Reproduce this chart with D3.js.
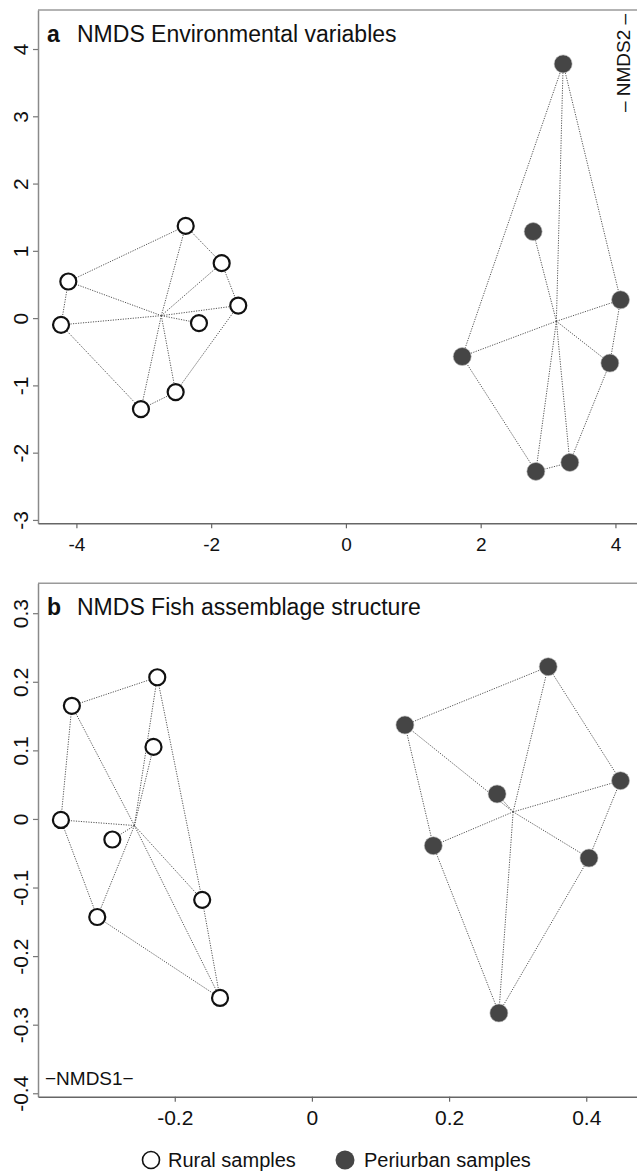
<!DOCTYPE html>
<html>
<head>
<meta charset="utf-8">
<script src="https://cdn.jsdelivr.net/npm/d3@7"></script>
<style>
  html, body { margin: 0; padding: 0; background: #fff; }
  svg { display: block; font-family: "Liberation Sans", Arial, sans-serif; }
</style>
</head>
<body>
<svg id="chart" width="637" height="1173"></svg>
<script>
// ---- Panel a: NMDS Environmental variables ----
const envRuralX = [-2.378, -1.844, -4.120, -1.598, -4.228, -2.181, -2.527, -3.042];
const envRuralY = [1.371, 0.817, 0.544, 0.187, -0.100, -0.074, -1.100, -1.352];
const envPeriX  = [3.224, 2.779, 4.076, 1.726, 3.917, 3.323, 2.819];
const envPeriY  = [3.779, 1.287, 0.272, -0.571, -0.669, -2.146, -2.279];
const envXTicks = [-4, -2, 0, 2, 4];
const envYTicks = [-3, -2, -1, 0, 1, 2, 3, 4];
const envXDomain = [-4.57, 4.32];
const envYDomain = [-3.05, 4.58];

// ---- Panel b: NMDS Fish assemblage structure ----
const fishRuralX = [-0.350, -0.2255, -0.231, -0.366, -0.291, -0.160, -0.313, -0.134];
const fishRuralY = [0.165, 0.2066, 0.105, -0.0015, -0.030, -0.118, -0.143, -0.261];
const fishPeriX  = [0.3445, 0.1356, 0.270, 0.450, 0.177, 0.404, 0.2726];
const fishPeriY  = [0.222, 0.137, 0.0364, 0.0558, -0.039, -0.057, -0.283];
const fishXTicks = [-0.2, 0, 0.2, 0.4];
const fishYTicks = [-0.4, -0.3, -0.2, -0.1, 0, 0.1, 0.2, 0.3];
const fishXDomain = [-0.3994, 0.474];
const fishYDomain = [-0.405, 0.3436];

const titles = ["NMDS Environmental variables", "NMDS Fish assemblage structure"];
const panelLetters = ["a", "b"];
const legendLabels = ["Rural samples", "Periurban samples"];

const svg = d3.select("#chart");
const LEFT = 38, RIGHT = 637;
const FILL_PERI = "#454545";
const LINE_COL = "#555";
const FONT = "'Liberation Sans', Arial, sans-serif";

function panel(opts) {
  const g = svg.append("g");
  const x = d3.scaleLinear().domain(opts.xDomain).range([LEFT, RIGHT]);
  const y = d3.scaleLinear().domain(opts.yDomain).range([opts.bottom, opts.top]);

  // top border
  g.append("line")
    .attr("x1", LEFT).attr("x2", RIGHT)
    .attr("y1", opts.top).attr("y2", opts.top)
    .attr("stroke", "#9a9a9a").attr("stroke-width", 1.5);

  // left axis
  const ya = g.append("g").attr("transform", `translate(${LEFT},0)`)
    .call(d3.axisLeft(y).tickValues(opts.yTicks).tickSize(5).tickSizeOuter(0)
      .tickFormat(d => d === 0 ? "0" : String(+d.toFixed(2))));
  ya.attr("font-size", null).attr("font-family", null);
  ya.select(".domain").attr("stroke", "#8a8a8a").attr("stroke-width", 1.5);
  ya.selectAll(".tick line").attr("stroke", "#777").attr("stroke-width", 1.2);
  ya.selectAll(".tick text")
    .attr("transform", "rotate(-90)")
    .attr("x", 0).attr("y", -10).attr("dy", 0)
    .attr("text-anchor", "middle")
    .attr("fill", "#111")
    .style("font-size", opts.yFont + "px")
    .style("font-family", FONT);

  // bottom axis
  const xa = g.append("g").attr("transform", `translate(0,${opts.bottom})`)
    .call(d3.axisBottom(x).tickValues(opts.xTicks).tickSize(5).tickSizeOuter(0)
      .tickFormat(d => d === 0 ? "0" : String(+d.toFixed(2))));
  xa.attr("font-size", null).attr("font-family", null);
  xa.select(".domain").attr("stroke", "#666").attr("stroke-width", 1.5);
  xa.selectAll(".tick line").attr("stroke", "#666").attr("stroke-width", 1.2);
  xa.selectAll(".tick text")
    .attr("y", opts.xLabelY).attr("dy", 0)
    .attr("fill", "#111")
    .style("font-size", opts.xFont + "px")
    .style("font-family", FONT);

  // groups: hull + spider
  const groups = [
    { xs: opts.ruralX, ys: opts.ruralY, rural: true },
    { xs: opts.periX, ys: opts.periY, rural: false }
  ];
  const lines = g.append("g");
  const pts = g.append("g");
  groups.forEach(grp => {
    const p = grp.xs.map((v, i) => [x(v), y(grp.ys[i])]);
    const cx = d3.mean(grp.xs), cy = d3.mean(grp.ys);
    const hull = d3.polygonHull(p);
    lines.append("path")
      .attr("d", "M" + hull.map(q => q.join(",")).join("L") + "Z")
      .attr("fill", "none").attr("stroke", LINE_COL)
      .attr("stroke-width", 1).attr("stroke-dasharray", "1.2,1.3");
    p.forEach(q => {
      lines.append("line")
        .attr("x1", x(cx)).attr("y1", y(cy))
        .attr("x2", q[0]).attr("y2", q[1])
        .attr("stroke", LINE_COL).attr("stroke-width", 1)
        .attr("stroke-dasharray", "1.2,1.3");
    });
    p.forEach(q => {
      if (grp.rural) {
        pts.append("circle").attr("cx", q[0]).attr("cy", q[1]).attr("r", 8)
          .attr("fill", "#fff").attr("stroke", "#111").attr("stroke-width", 2.2);
      } else {
        pts.append("circle").attr("cx", q[0]).attr("cy", q[1]).attr("r", 9)
          .attr("fill", FILL_PERI).attr("stroke", "#bbb").attr("stroke-width", 0.6);
      }
    });
  });

  // panel title
  g.append("text").attr("x", 47).attr("y", opts.titleY)
    .attr("font-weight", "bold").style("font-size", "23px").attr("fill", "#111")
    .text(opts.letter);
  g.append("text").attr("x", 77).attr("y", opts.titleY)
    .style("font-size", "23px").attr("fill", "#111")
    .text(opts.title);
  return { x, y, g };
}

const pa = panel({
  xDomain: envXDomain, yDomain: envYDomain, top: 10, bottom: 523.3,
  xTicks: envXTicks, yTicks: envYTicks,
  ruralX: envRuralX, ruralY: envRuralY, periX: envPeriX, periY: envPeriY,
  letter: panelLetters[0], title: titles[0], titleY: 42,
  xFont: 19, yFont: 21, xLabelY: 28
});

pa.g.append("text")
  .attr("transform", "translate(630,63) rotate(-90)")
  .attr("text-anchor", "middle")
  .style("font-size", "19px").attr("fill", "#111")
  .text("\u2013 NMDS2 \u2013");

const pb = panel({
  xDomain: fishXDomain, yDomain: fishYDomain, top: 583.3, bottom: 1096.7,
  xTicks: fishXTicks, yTicks: fishYTicks,
  ruralX: fishRuralX, ruralY: fishRuralY, periX: fishPeriX, periY: fishPeriY,
  letter: panelLetters[1], title: titles[1], titleY: 615,
  xFont: 21, yFont: 21, xLabelY: 28
});

pb.g.append("text")
  .attr("x", 45).attr("y", 1085)
  .style("font-size", "19px").attr("fill", "#111")
  .text("\u2212NMDS1\u2212");

// legend
const leg = svg.append("g");
leg.append("circle").attr("cx", 151).attr("cy", 1160).attr("r", 8.5)
  .attr("fill", "#fff").attr("stroke", "#111").attr("stroke-width", 1.6);
leg.append("text").attr("x", 168).attr("y", 1167)
  .style("font-size", "20px").attr("fill", "#111").text(legendLabels[0]);
leg.append("circle").attr("cx", 345).attr("cy", 1160).attr("r", 9.5)
  .attr("fill", FILL_PERI);
leg.append("text").attr("x", 364).attr("y", 1167)
  .style("font-size", "20px").attr("fill", "#111").text(legendLabels[1]);
</script>
</body>
</html>
